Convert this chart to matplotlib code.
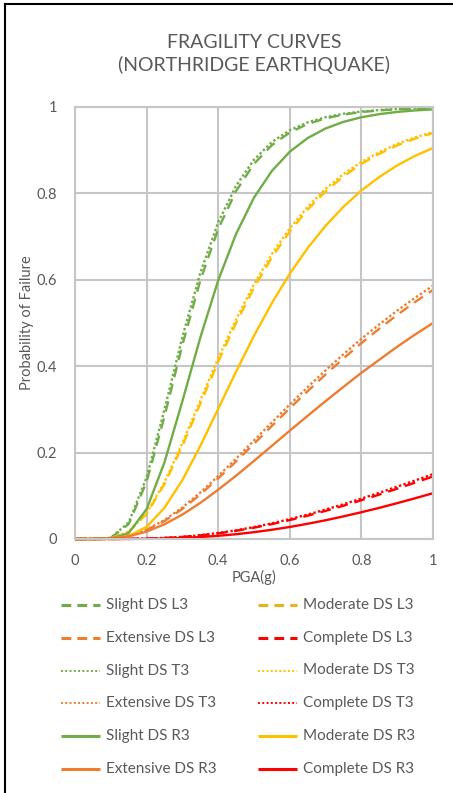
import matplotlib
matplotlib.use('Agg')
import matplotlib.pyplot as plt
from matplotlib.lines import Line2D

# ---------------- data ----------------
pga = [0.0, 0.05, 0.1, 0.15, 0.2, 0.25, 0.3, 0.35, 0.4, 0.45, 0.5,
       0.55, 0.6, 0.65, 0.7, 0.75, 0.8, 0.85, 0.9, 0.95, 1.0]

slight_L3 = [0, 0, 0.0025, 0.0346, 0.1325, 0.2840, 0.4495, 0.5983, 0.7176, 0.8054, 0.8685,
             0.9117, 0.9410, 0.9607, 0.9738, 0.9824, 0.9883, 0.9921, 0.9947, 0.9964, 0.9975]
moderate_L3 = [0, 0, 0.0017, 0.0165, 0.0579, 0.1271, 0.2157, 0.3131, 0.4102, 0.5000, 0.5816,
               0.6518, 0.7120, 0.7627, 0.8046, 0.8394, 0.8684, 0.8916, 0.9112, 0.9269, 0.9397]
extensive_L3 = [0, 0, 0.0013, 0.0073, 0.0206, 0.0416, 0.0696, 0.1029, 0.1403, 0.1796, 0.2207,
                0.2618, 0.3026, 0.3424, 0.3810, 0.4180, 0.4535, 0.4868, 0.5187, 0.5486, 0.5765]
complete_L3 = [0, 0, 0, 0.0003, 0.0010, 0.0024, 0.0048, 0.0084, 0.0131, 0.0190, 0.0262,
               0.0345, 0.0438, 0.0540, 0.0652, 0.0771, 0.0898, 0.1028, 0.1166, 0.1305, 0.1448]

slight_T3 = [0, 0, 0.0029, 0.0383, 0.1427, 0.3001, 0.4679, 0.6160, 0.7330, 0.8178, 0.8782,
             0.9189, 0.9463, 0.9645, 0.9764, 0.9844, 0.9896, 0.9930, 0.9953, 0.9969, 0.9979]
moderate_T3 = [0, 0, 0.0019, 0.0174, 0.0603, 0.1316, 0.2221, 0.3206, 0.4184, 0.5085, 0.5898,
               0.6598, 0.7194, 0.7691, 0.8106, 0.8447, 0.8729, 0.8954, 0.9145, 0.9298, 0.9421]
extensive_T3 = [0, 0, 0.0014, 0.0078, 0.0219, 0.0439, 0.0730, 0.1075, 0.1459, 0.1862, 0.2282,
                0.2700, 0.3114, 0.3516, 0.3905, 0.4278, 0.4634, 0.4968, 0.5287, 0.5584, 0.5863]
complete_T3 = [0, 0, 0, 0.0003, 0.0010, 0.0026, 0.0051, 0.0089, 0.0139, 0.0201, 0.0276,
               0.0362, 0.0460, 0.0566, 0.0681, 0.0805, 0.0936, 0.1069, 0.1212, 0.1355, 0.1501]

slight_R3 = [0, 0, 0.0006, 0.0138, 0.0691, 0.1775, 0.3192, 0.4661, 0.5987, 0.7063, 0.7903,
             0.8520, 0.8966, 0.9282, 0.9503, 0.9656, 0.9763, 0.9835, 0.9886, 0.9921, 0.9945]
moderate_R3 = [0, 0, 0.0005, 0.0065, 0.0283, 0.0721, 0.1365, 0.2153, 0.3015, 0.3874, 0.4705,
               0.5462, 0.6141, 0.6736, 0.7251, 0.7691, 0.8068, 0.8379, 0.8648, 0.8869, 0.9052]
extensive_R3 = [0, 0, 0.0012, 0.0063, 0.0171, 0.0341, 0.0566, 0.0835, 0.1141, 0.1466, 0.1809,
                0.2157, 0.2508, 0.2853, 0.3192, 0.3523, 0.3847, 0.4149, 0.4451, 0.4733, 0.5000]
complete_R3 = [0, 0, 0, 0.0001, 0.0004, 0.0011, 0.0025, 0.0045, 0.0074, 0.0111, 0.0158,
               0.0214, 0.0279, 0.0353, 0.0434, 0.0524, 0.0620, 0.0721, 0.0830, 0.0943, 0.1060]

ticks = [0, 0.2, 0.4, 0.6, 0.8, 1]
tick_labels = ['0', '0.2', '0.4', '0.6', '0.8', '1']

series = [
    ('Slight DS L3', slight_L3, 'green', 'dash'),
    ('Moderate DS L3', moderate_L3, 'gold', 'dash'),
    ('Extensive DS L3', extensive_L3, 'orange', 'dash'),
    ('Complete DS L3', complete_L3, 'red', 'dash'),
    ('Slight DS T3', slight_T3, 'green', 'dot'),
    ('Moderate DS T3', moderate_T3, 'gold', 'dot'),
    ('Extensive DS T3', extensive_T3, 'orange', 'dot'),
    ('Complete DS T3', complete_T3, 'red', 'dot'),
    ('Slight DS R3', slight_R3, 'green', 'solid'),
    ('Moderate DS R3', moderate_R3, 'gold', 'solid'),
    ('Extensive DS R3', extensive_R3, 'orange', 'solid'),
    ('Complete DS R3', complete_R3, 'red', 'solid'),
]

# ---------------- styles ----------------
colors = {'green': '#70AD47', 'gold': '#FFC000', 'orange': '#ED7D31', 'red': '#FF0000'}
legend_colors = {'green': '#70AD47', 'gold': '#E8B21A', 'orange': '#ED7D31', 'red': '#FF0000'}
styles = {'dash': (0, (4.5, 3)), 'dot': (0, (1, 1)), 'solid': '-'}
legend_styles = {'dash': (0, (3.2, 2.0)), 'dot': (0, (1, 1.2)), 'solid': '-'}
TXT = '#595959'
GRID = '#C6C6C6'
LW = 1.7

plt.rcParams['font.family'] = ['Lato', 'DejaVu Sans']

W, H = 453, 793
fig = plt.figure(figsize=(W / 100, H / 100), dpi=100)
fig.patch.set_facecolor('white')

ax_l, ax_r, ax_t, ax_b = 75, 433, 107, 539
ax = fig.add_axes([ax_l / W, 1 - ax_b / H, (ax_r - ax_l) / W, (ax_b - ax_t) / H])

for name, vals, c, s in series:
    ax.plot(pga, vals, color=colors[c], linestyle=styles[s], lw=LW,
            solid_capstyle='butt', dash_capstyle='butt', solid_joinstyle='round',
            clip_on=False, label=name)

ax.set_xlim(0, 1)
ax.set_ylim(0, 1)
ax.set_xticks(ticks)
ax.set_xticklabels(tick_labels)
ax.set_yticks(ticks)
ax.set_yticklabels(tick_labels)
ax.grid(True, color=GRID, lw=1.5)
ax.set_axisbelow(True)
for sp in ax.spines.values():
    sp.set_color(GRID)
    sp.set_linewidth(1.5)
ax.tick_params(length=0, labelsize=10.5, labelcolor=TXT)
ax.tick_params(axis='x', pad=11)
ax.tick_params(axis='y', pad=13)

ax.set_xlabel('PGA(g)', fontsize=10.5, color=TXT, labelpad=1)
fig.text(27 / W, 1 - 323 / H, 'Probability of Failure', rotation=90,
         ha='center', va='center', fontsize=10.5, color=TXT)

fig.text(254 / W, 1 - 43 / H, 'FRAGILITY CURVES', ha='center', va='center',
         fontsize=14, color=TXT)
fig.text(254 / W, 1 - 65 / H, '(NORTHRIDGE EARTHQUAKE)', ha='center', va='center',
         fontsize=14, color=TXT)

# ---------------- legend (two columns, row-wise order) ----------------
row_y = [605, 638, 670.5, 703, 736, 769]
col_x = [(61, 100, 106), (258, 297, 303)]
for i, (name, vals, c, s) in enumerate(series):
    r, col = divmod(i, 2)
    x0, x1, xt = col_x[col]
    y = 1 - row_y[r] / H
    fig.add_artist(Line2D([x0 / W, x1 / W], [y, y], transform=fig.transFigure,
                          color=legend_colors[c] if s == 'dash' else colors[c],
                          linestyle=legend_styles[s],
                          lw=2.2 if s != 'dot' else 1.4,
                          dash_capstyle='butt', solid_capstyle='butt'))
    fig.text(xt / W, y, name, ha='left', va='center', fontsize=11, color=TXT)

# frame lines (top and left) of the screenshot
fig.add_artist(Line2D([5 / W, 1], [1 - 4 / H, 1 - 4 / H], transform=fig.transFigure,
                      color='black', lw=1.5))
fig.add_artist(Line2D([5 / W, 5 / W], [0, 1 - 4 / H], transform=fig.transFigure,
                      color='black', lw=1.5))

fig.savefig('out.png', dpi=100)
